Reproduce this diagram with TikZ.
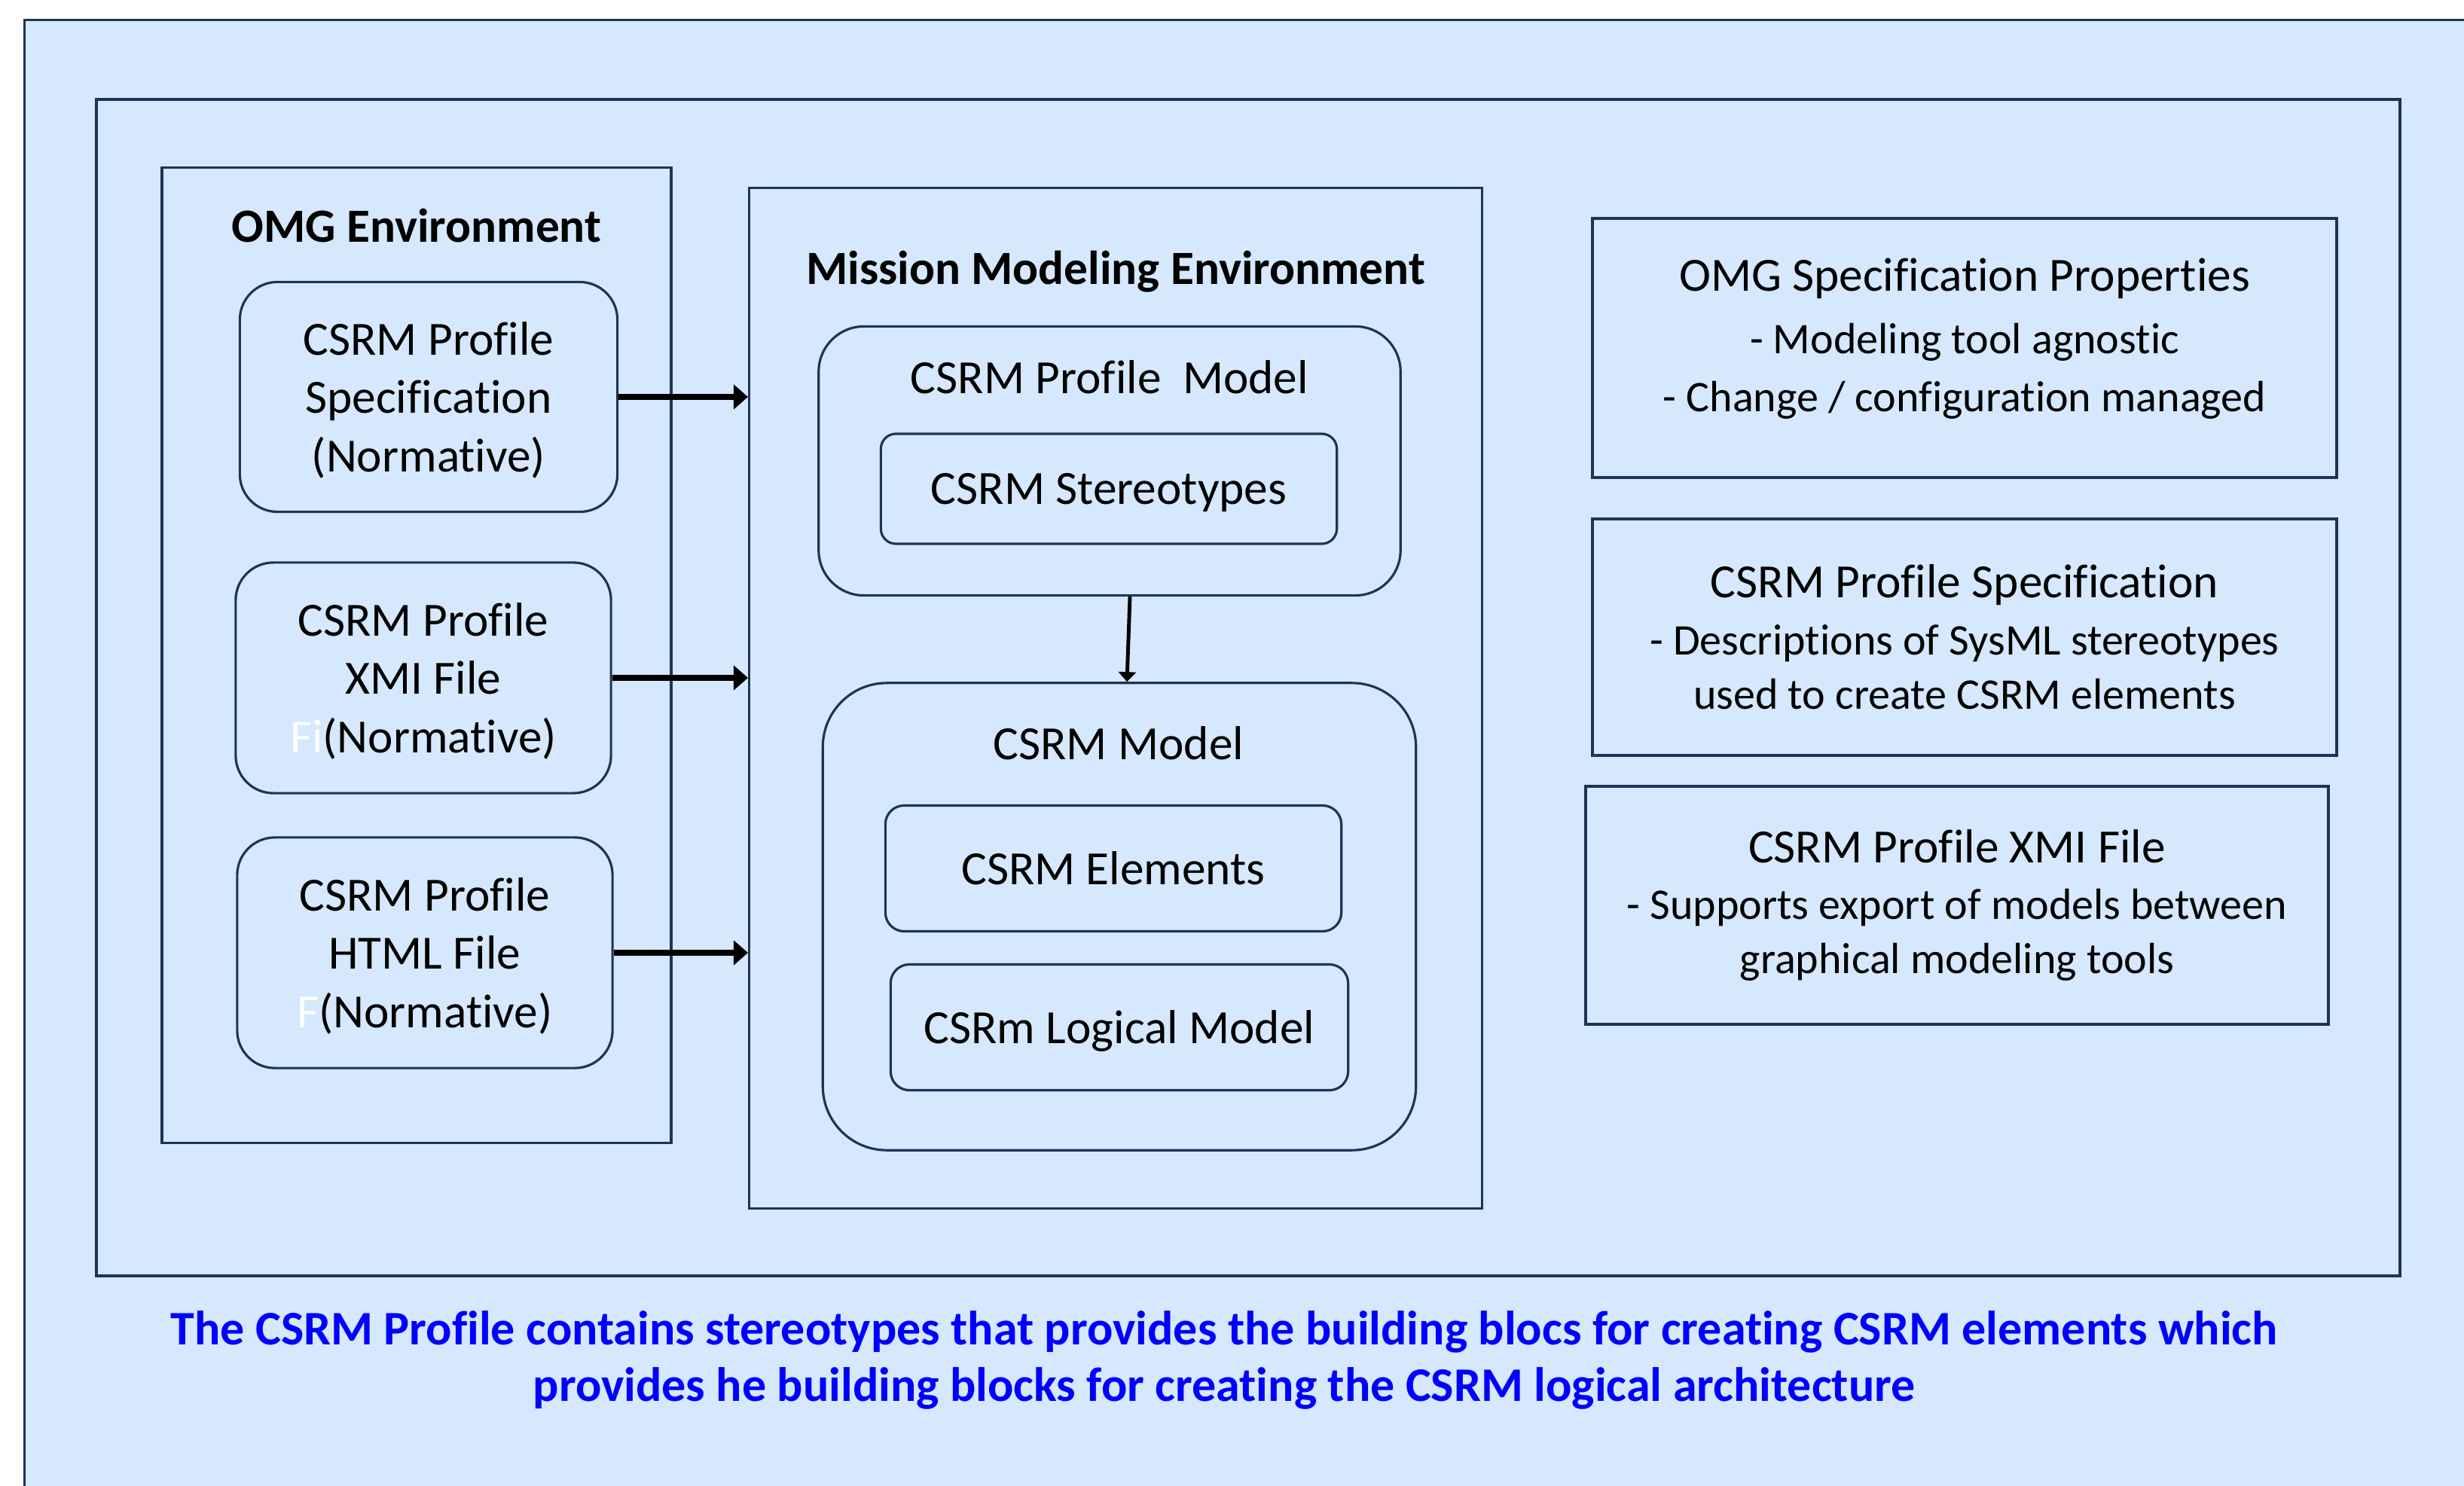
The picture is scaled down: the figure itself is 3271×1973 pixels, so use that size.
\documentclass[tikz,border=0pt]{standalone}
\usepackage{fontspec}
\setmainfont{Carlito}[Ligatures={NoCommon,NoContextual}]
\usepackage{tikz}
\usetikzlibrary{arrows.meta}
\definecolor{paleblue}{RGB}{213,232,253}
\definecolor{navy}{RGB}{31,51,87}
\definecolor{capblue}{RGB}{0,0,255}

\begin{document}
\begin{tikzpicture}
  [x=0.01cm,y=-0.01cm,
   every node/.style={font=\fontsize{18}{22}\selectfont},
   envbox/.style={draw=navy,fill=paleblue,line width=1pt,inner sep=0pt},
   docbox/.style={draw=navy,fill=paleblue,line width=0.9pt,rounded corners=0.5cm,align=center,inner sep=0pt,text depth=0pt},
   partbox/.style={draw=navy,fill=paleblue,line width=0.9pt,rounded corners=0.2cm,inner sep=0pt,text depth=0pt},
   descbox/.style={draw=navy,fill=paleblue,line width=1.1pt,align=center,inner sep=0pt,
                   minimum width=9.87cm,font=\fontsize{16.5}{20.5}\selectfont},
   envtitle/.style={font=\fontsize{18}{22}\selectfont\bfseries},
   flow/.style={-{Triangle[length=0.19cm,width=0.32cm]},line width=2pt}]
  \useasboundingbox (0,0) rectangle (3271,1973);
  \node[envbox,line width=0.8pt,anchor=north west,minimum width=33cm,minimum height=20cm] (sheet) at (31,25) {};
  \node[envbox,line width=1.2pt,minimum width=30.56cm,minimum height=15.61cm] (frame) at (1657,913) {};
  % OMG side
  \node[envbox,minimum width=6.76cm,minimum height=12.94cm] (omgenv) at (553,870) {};
  \node[envtitle] (omgtitle) at (553,300) {OMG Environment};
  \node[docbox,minimum width=5.01cm,minimum height=3.05cm] (profspec) at (569,527) {CSRM Profile\\Specification\\(Normative)};
  \node[docbox,minimum width=4.98cm,minimum height=3.06cm] (profxmi) at (562,900) {CSRM Profile\\XMI File\\\textcolor{white}{Fi}(Normative)};
  \node[docbox,minimum width=4.98cm,minimum height=3.06cm] (profhtml) at (564,1265) {CSRM Profile\\HTML File\\\textcolor{white}{F}(Normative)};
  % mission modeling side
  \node[envbox,minimum width=9.72cm,minimum height=13.54cm] (mmenv) at (1481,927) {};
  \node[envtitle] (mmetitle) at (1481,361) {Mission Modeling Environment};
  \node[partbox,rounded corners=0.6cm,minimum width=7.72cm,minimum height=3.57cm] (profmodel) at (1473,612) {};
  \node (profmodeltitle) at (1473,501) {CSRM Profile\ \ Model};
  \node[partbox,minimum width=6.05cm,minimum height=1.46cm] (stereo) at (1472,649) {CSRM Stereotypes};
  \node[partbox,rounded corners=0.85cm,minimum width=7.87cm,minimum height=6.2cm] (csrmmodel) at (1486,1217) {};
  \node (csrmmodeltitle) at (1485,987) {CSRM Model};
  \node[partbox,rounded corners=0.25cm,minimum width=6.05cm,minimum height=1.67cm] (elements) at (1478,1153) {CSRM Elements};
  \node[partbox,rounded corners=0.25cm,minimum width=6.07cm,minimum height=1.67cm] (logical) at (1486,1364) {CSRm Logical Model};
  % notes on the right
  \node[descbox,minimum height=3.44cm] (props) at (2608,462) {};
  \node[align=center,font=\fontsize{16.5}{22}\selectfont] (propstext) at (2608,450) {{\fontsize{18}{22}\selectfont OMG Specification Properties}\\[1.5pt]- Modeling tool agnostic\\- Change / configuration managed};
  \node[descbox,minimum height=3.13cm] (specnote) at (2608,846) {{\fontsize{18}{22}\selectfont CSRM Profile Specification}\\[1pt]- Descriptions of SysML stereotypes\\used to create CSRM elements};
  \node[descbox,minimum width=9.86cm,minimum height=3.15cm] (xminote) at (2598,1202) {{\fontsize{18}{22}\selectfont CSRM Profile XMI File}\\[1pt]- Supports export of models between\\graphical modeling tools};
  \node[font=\fontsize{18.2}{21.5}\selectfont\bfseries,text=capblue,align=center] (caption) at (1625,1806)
    {The CSRM Profile contains stereotypes that provides the building blocs for creating CSRM elements which\\provides he building blocks for creating the CSRM logical architecture};
  \foreach \doc in {profspec,profxmi,profhtml}
    \draw[flow] (\doc.east) -- (\doc.east -| mmenv.west);
  \draw[flow,line width=1.4pt,-{Triangle[length=0.13cm,width=0.23cm]}] ([xshift=0.27cm]profmodel.south) -- ([xshift=0.1cm]csrmmodel.north);
\end{tikzpicture}
\end{document}
